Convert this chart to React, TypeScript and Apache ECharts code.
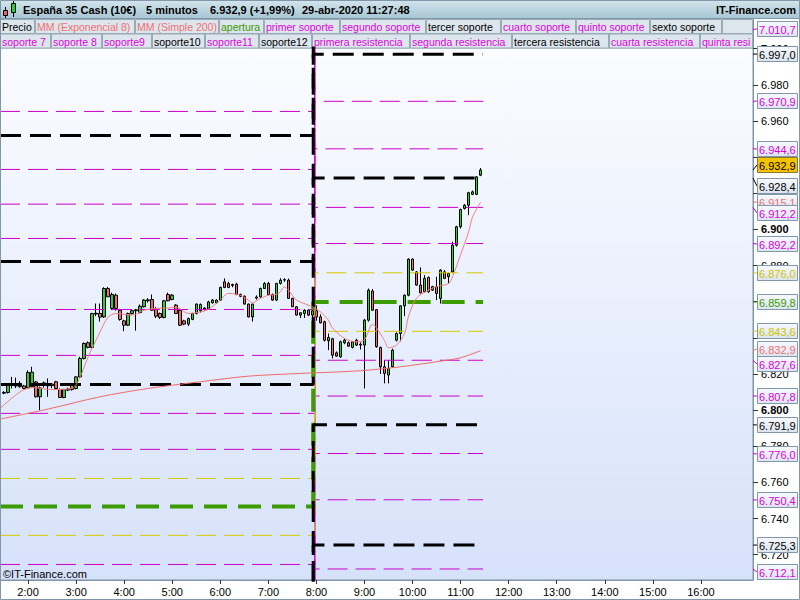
import React, { useEffect, useRef } from 'react';
import * as echarts from 'echarts';

// ---------------- data ----------------
const titleText = 'España 35 Cash (10€)';
const periodText = '5 minutos';
const quoteText = '6.932,9 (+1,99%)';
const stampText = '29-abr-2020 11:27:48';
const brandText = 'IT-Finance.com';
const copyrightText = '©IT-Finance.com';

// legend rows: [label, colour key]
const legendRowA: [string, string][] = [
  ['Precio', 'k'], ['MM (Exponencial 8)', 's'], ['MM (Simple 200)', 's'], ['apertura', 'g'],
  ['primer soporte', 'm'], ['segundo soporte', 'm'], ['tercer soporte', 'k'], ['cuarto soporte', 'm'],
  ['quinto soporte', 'm'], ['sexto soporte', 'k'], ['', 'k'],
];
const legendRowB: [string, string][] = [
  ['soporte 7', 'm'], ['soporte 8', 'm'], ['soporte9', 'm'], ['soporte10', 'k'], ['soporte11', 'm'],
  ['soporte12', 'k'], ['primera resistencia', 'm'], ['segunda resistencia', 'm'],
  ['tercera resistencia', 'k'], ['cuarta resistencia', 'm'], ['quinta resistencia', 'm'],
];

const firstBar = '1:30';
const barStep = 5; // minutes
// [open, high, low, close]
const candles: [number, number, number, number][] = [
  [6809.4, 6810.5, 6808.8, 6809.8], [6809.8, 6814.6, 6809.2, 6813.8], [6813.8, 6818.4, 6812.0, 6814.2],
  [6814.2, 6818.0, 6812.2, 6813.4], [6813.0, 6816.0, 6812.4, 6814.8], [6813.4, 6814.0, 6811.6, 6812.0],
  [6812.3, 6822.0, 6811.8, 6820.8], [6813.0, 6824.0, 6812.6, 6821.0], [6815.6, 6816.2, 6807.0, 6807.4],
  [6807.4, 6813.0, 6800.0, 6812.3], [6814.0, 6815.8, 6812.5, 6815.1], [6814.5, 6817.5, 6807.4, 6813.5],
  [6813.6, 6815.0, 6812.2, 6814.4], [6815.7, 6816.2, 6811.5, 6812.0], [6811.4, 6812.0, 6806.8, 6807.0],
  [6807.0, 6811.8, 6806.6, 6811.4], [6811.1, 6812.4, 6810.5, 6811.6], [6814.4, 6815.0, 6810.8, 6811.4],
  [6812.0, 6818.8, 6811.5, 6818.4], [6818.4, 6829.5, 6817.8, 6828.6], [6828.6, 6837.5, 6828.0, 6836.9],
  [6837.3, 6838.0, 6834.2, 6834.7], [6834.7, 6853.8, 6834.2, 6853.5], [6853.2, 6859.0, 6852.0, 6853.6],
  [6853.5, 6859.0, 6849.0, 6851.5], [6851.6, 6868.0, 6851.0, 6867.3], [6867.3, 6868.2, 6862.6, 6862.7],
  [6856.3, 6865.0, 6855.5, 6864.0], [6863.6, 6864.5, 6855.0, 6856.3], [6855.3, 6856.0, 6849.5, 6850.2],
  [6849.4, 6850.0, 6843.7, 6847.0], [6847.0, 6854.0, 6846.5, 6853.5], [6853.5, 6855.5, 6852.8, 6855.0],
  [6855.0, 6856.0, 6844.0, 6855.5], [6854.0, 6858.5, 6853.5, 6857.5], [6857.2, 6861.5, 6856.8, 6860.9],
  [6861.0, 6862.0, 6859.5, 6860.5], [6861.2, 6864.0, 6855.0, 6855.3], [6855.8, 6857.0, 6851.0, 6852.0],
  [6853.5, 6854.0, 6850.5, 6851.3], [6851.3, 6861.0, 6850.8, 6860.5], [6864.0, 6865.0, 6860.2, 6860.5],
  [6861.2, 6864.2, 6860.8, 6863.6], [6858.1, 6858.7, 6853.2, 6853.5], [6855.3, 6856.0, 6846.5, 6847.0],
  [6849.4, 6850.0, 6847.0, 6847.6], [6847.6, 6851.2, 6846.5, 6850.7], [6850.2, 6853.8, 6849.8, 6853.5],
  [6853.5, 6859.0, 6853.0, 6858.7], [6855.0, 6859.0, 6854.0, 6858.5], [6856.5, 6857.0, 6855.0, 6856.0],
  [6856.0, 6860.5, 6855.5, 6859.9], [6859.4, 6861.5, 6859.0, 6860.9], [6859.4, 6861.3, 6859.0, 6860.9],
  [6860.9, 6868.3, 6860.5, 6867.9], [6871.0, 6872.9, 6867.5, 6867.9], [6870.1, 6871.0, 6867.5, 6867.9],
  [6869.0, 6870.0, 6868.0, 6869.5], [6869.7, 6870.5, 6863.6, 6864.0], [6863.0, 6864.5, 6862.5, 6864.0],
  [6863.0, 6863.5, 6858.5, 6858.7], [6858.7, 6859.0, 6851.3, 6851.6], [6851.6, 6858.8, 6849.0, 6858.7],
  [6862.0, 6863.5, 6861.2, 6862.6], [6862.7, 6867.8, 6862.2, 6867.3], [6867.3, 6870.8, 6867.0, 6870.1],
  [6870.1, 6871.0, 6863.5, 6864.0], [6864.0, 6864.5, 6860.5, 6860.9], [6860.9, 6870.5, 6860.5, 6870.1],
  [6870.1, 6873.0, 6869.5, 6871.9], [6872.0, 6873.0, 6871.0, 6872.2], [6871.9, 6872.8, 6861.5, 6861.8],
  [6861.8, 6862.2, 6857.0, 6857.2], [6857.2, 6857.5, 6852.3, 6852.6], [6852.6, 6854.0, 6851.0, 6853.9],
  [6853.5, 6855.8, 6851.0, 6855.3], [6855.3, 6856.0, 6852.0, 6852.6], [6852.6, 6857.0, 6850.0, 6855.0],
  // 8:00 session
  [6855.0, 6858.0, 6849.5, 6851.6], [6851.6, 6853.0, 6848.0, 6848.3], [6848.9, 6849.5, 6838.0, 6838.7],
  [6838.4, 6842.4, 6833.2, 6840.2], [6839.5, 6840.0, 6828.6, 6830.4], [6831.7, 6832.5, 6829.5, 6829.9],
  [6829.5, 6838.5, 6829.0, 6837.8], [6837.3, 6839.5, 6836.5, 6838.7], [6837.3, 6838.0, 6835.0, 6835.4],
  [6834.7, 6838.2, 6834.2, 6837.8], [6838.7, 6839.5, 6835.5, 6836.0], [6836.5, 6837.5, 6833.5, 6836.0],
  [6836.0, 6850.5, 6812.0, 6849.8], [6849.8, 6867.3, 6849.0, 6866.4], [6865.9, 6867.0, 6855.0, 6855.3],
  [6855.6, 6856.0, 6834.5, 6835.1], [6834.7, 6835.2, 6820.0, 6824.0], [6824.0, 6827.7, 6814.8, 6820.3],
  [6819.4, 6827.7, 6814.8, 6823.1], [6824.0, 6834.0, 6823.5, 6833.2], [6838.7, 6843.0, 6838.0, 6842.4],
  [6842.4, 6858.0, 6838.0, 6857.7], [6857.7, 6864.0, 6852.0, 6863.6], [6863.6, 6884.0, 6863.0, 6883.6],
  [6883.6, 6884.0, 6877.0, 6877.5], [6876.5, 6877.0, 6868.8, 6869.2], [6869.2, 6879.0, 6864.6, 6864.9],
  [6865.5, 6874.7, 6865.0, 6872.9], [6873.4, 6874.0, 6865.0, 6865.5], [6866.4, 6868.8, 6866.0, 6868.3],
  [6868.3, 6873.8, 6860.9, 6864.6], [6861.8, 6878.0, 6859.0, 6877.5], [6876.5, 6877.5, 6872.5, 6872.9],
  [6873.8, 6876.0, 6870.1, 6875.6], [6876.5, 6893.2, 6876.0, 6891.3], [6891.3, 6902.0, 6890.5, 6901.5],
  [6901.5, 6911.5, 6900.5, 6911.0], [6911.6, 6914.0, 6911.0, 6913.4], [6913.4, 6920.8, 6907.9, 6920.3],
  [6919.4, 6921.5, 6919.0, 6920.8], [6919.4, 6929.5, 6919.0, 6929.1], [6930.0, 6934.0, 6929.5, 6932.9],
];

const ema8: [string, number][] = [
  ['1:25', 6800.9], ['1:50', 6810.1], ['2:05', 6812.5], ['2:30', 6811.4], ['2:55', 6812.0],
  ['3:05', 6818.4], ['3:15', 6829.5], ['3:30', 6843.3], ['3:40', 6851.6], ['3:50', 6853.5],
  ['4:10', 6852.6], ['4:25', 6855.3], ['4:40', 6856.3], ['4:55', 6856.5], ['5:05', 6857.0],
  ['5:20', 6853.5], ['5:30', 6853.9], ['5:45', 6855.7], ['6:00', 6860.9], ['6:10', 6864.6],
  ['6:25', 6863.6], ['6:35', 6860.9], ['6:40', 6859.4], ['6:50', 6861.8], ['7:00', 6863.6],
  ['7:10', 6864.0], ['7:15', 6865.5], ['7:20', 6868.2], ['7:25', 6866.5], ['7:35', 6861.0],
  ['7:50', 6858.1], ['7:55', 6857.2], ['8:05', 6854.4], ['8:15', 6849.8], ['8:20', 6845.5],
  ['8:35', 6839.7], ['8:50', 6837.8], ['9:00', 6839.0], ['9:10', 6847.5], ['9:15', 6845.5],
  ['9:25', 6838.5], ['9:30', 6834.5], ['9:40', 6836.0], ['9:50', 6842.4], ['9:55', 6852.0],
  ['10:05', 6862.0], ['10:20', 6866.4], ['10:30', 6868.3], ['10:45', 6870.1], ['10:50', 6874.0],
  ['11:00', 6886.0], ['11:10', 6898.7], ['11:15', 6907.0], ['11:25', 6915.1],
];

const sma200: [string, number][] = [
  ['1:25', 6795.0], ['2:25', 6800.6], ['3:30', 6807.4], ['4:30', 6812.0], ['5:35', 6815.7],
  ['6:35', 6818.8], ['7:40', 6820.3], ['8:55', 6821.8], ['9:45', 6824.0], ['10:35', 6827.1],
  ['11:00', 6829.0], ['11:25', 6832.9],
];

// level pairs: [previous session value, current session value]
const openLevels: [number, number][] = [[6746.7, 6859.8]];
const yellowLevels: [number, number][] = [[6762.2, 6876.0], [6730.7, 6843.6]];
const magentaLevels: [number, number][] = [
  [6965.3, 7078.0], [6933.2, 7046.0], [6914.0, 7027.0], [6895.0, 7010.7], [6855.7, 6970.9],
  [6830.3, 6944.6], [6798.2, 6912.2], [6778.3, 6892.2], [6714.6, 6827.6], [6694.7, 6807.8],
  [6663.0, 6776.0], [6637.3, 6750.4], [6599.0, 6712.1],
];
const blackLevels: [number, number][] = [
  [6952.0, 7065.0], [6882.3, 6997.0], [6814.2, 6928.4], [6679.0, 6791.9], [6611.0, 6725.3],
];

// value tags on the price axis: [value, kind]
const axisTags: [number, string][] = [
  [7010.7, 'm'], [6997.0, 'k'], [6970.9, 'm'], [6944.6, 'm'], [6928.4, 'k'], [6932.9, 'p'],
  [6915.1, 's'], [6912.2, 'm'], [6892.2, 'm'], [6876.0, 'y'], [6859.8, 'g'], [6843.6, 'y'],
  [6832.9, 's'], [6827.6, 'm'], [6807.8, 'm'], [6791.9, 'k'], [6776.0, 'm'], [6750.4, 'm'],
  [6725.3, 'k'], [6712.1, 'm'],
];

const viewStart = '1:25';
const viewEnd = '17:05';
const blackSwitch = '7:56';
const colourSwitch = '7:58';
const levelEnd = '11:28';
const hourLabels = ['2:00', '3:00', '4:00', '5:00', '6:00', '7:00', '8:00', '9:00', '10:00', '11:00', '12:00', '13:00', '14:00', '15:00', '16:00'];
const priceTicks = [6720, 6740, 6760, 6780, 6800, 6820, 6840, 6860, 6880, 6900, 6920, 6940, 6960, 6980, 7000];
// tick labels not hidden behind the value tags
const priceLabels = [6720, 6740, 6760, 6780, 6800, 6820, 6880, 6900, 6960, 6980, 7000];
const priceMin = 6706;
const priceMax = 7000.4;

// ---------------- layout / style ----------------
const FONT = '"Liberation Sans", Arial, sans-serif';
const C: Record<string, string> = {
  k: '#000000', m: '#dd00dd', s: '#f07070', g: '#3a9a00', y: '#d0c400', p: '#000000',
};
const LINE_MAG = '#cc00cc';
const LINE_YEL = '#d4ca00';
const LINE_GRN = '#3c9c00';
const FRAME = '#8197a9';
const rowAEdges = [0, 35, 135, 219, 264, 340, 426, 501, 576, 650, 722, 753];
const rowBEdges = [0, 51, 102, 152, 205, 259, 312, 410, 512, 609, 700, 753];
const tagNudge: Record<number, number> = { 4: 8, 5: -5, 7: 6, 12: -2, 13: 4, 19: 3 };

const toMin = (s: string) => {
  const [h, m] = s.split(':').map(Number);
  return h * 60 + m;
};
const thousands = (i: string) => (i.length > 3 ? i.slice(0, -3) + '.' + i.slice(-3) : i);
const fmtTag = (v: number) => {
  const [i, d] = v.toFixed(1).split('.');
  return thousands(i) + ',' + d;
};

function legendCells(row: [string, string][], edges: number[], y: number): any[] {
  const out: any[] = [];
  row.forEach(([label, key], i) => {
    const x0 = edges[i];
    const x1 = edges[i + 1];
    out.push({
      type: 'rect',
      shape: { x: x0 + 0.5, y: y + 0.5, width: x1 - x0 - 1, height: 14 },
      style: { fill: '#dde6ed', stroke: '#9aabb8', lineWidth: 1 },
      silent: true,
    });
    if (label) {
      const last = i === row.length - 1;
      const style: any = { text: label, fill: C[key], font: `10.5px ${FONT}`, verticalAlign: 'middle' };
      if (last) {
        style.width = x1 - x0 - 2;
        style.overflow = 'truncate';
        style.ellipsis = '';
      }
      out.push({ type: 'text', x: x0 + 2, y: y + 8, style, silent: true });
    }
  });
  return out;
}

function buildOption(): any {
  const t0 = toMin(viewStart);
  const t1 = toMin(viewEnd);
  const swK = toMin(blackSwitch);
  const swC = toMin(colourSwitch);
  const te = toMin(levelEnd);
  const fb = toMin(firstBar);

  const levelSeries = (pairs: [number, number][], color: string, width: number, dash: number[], z: number, sw: number) =>
    pairs.map(([l, r]) => ({
      type: 'line',
      data: [[t0, l], [sw, l], [sw, r], [te, r]],
      symbol: 'none',
      silent: true,
      clip: true,
      z,
      lineStyle: { color, width, type: dash, cap: 'butt' },
    }));

  const tagGradient = new echarts.graphic.LinearGradient(0, 0, 0, 1, [
    { offset: 0, color: '#f7f9fd' },
    { offset: 1, color: '#dbe4ef' },
  ]);

  const titleFont = `bold 11px ${FONT}`;
  const graphics: any[] = [
    {
      type: 'rect', shape: { x: 0, y: 0, width: 800, height: 18 },
      style: {
        fill: new echarts.graphic.LinearGradient(0, 0, 0, 1, [
          { offset: 0, color: '#d3e5ec' }, { offset: 1, color: '#a9c7d5' },
        ]),
      },
      silent: true,
    },
    { type: 'line', shape: { x1: 0, y1: 18.5, x2: 800, y2: 18.5 }, style: { stroke: FRAME, lineWidth: 1 }, silent: true },
    // icon
    { type: 'line', shape: { x1: 5.5, y1: 7, x2: 5.5, y2: 18 }, style: { stroke: '#000', lineWidth: 1 }, silent: true },
    { type: 'rect', shape: { x: 3.5, y: 10.5, width: 4, height: 5 }, style: { fill: '#f06060', stroke: '#000', lineWidth: 1 }, silent: true },
    { type: 'line', shape: { x1: 13.5, y1: 1, x2: 13.5, y2: 17 }, style: { stroke: '#000', lineWidth: 1 }, silent: true },
    { type: 'rect', shape: { x: 11.5, y: 3.5, width: 4, height: 9 }, style: { fill: '#30c830', stroke: '#000', lineWidth: 1 }, silent: true },
    { type: 'text', x: 23, y: 10, style: { text: titleText, font: titleFont, fill: '#000', verticalAlign: 'middle' }, silent: true },
    { type: 'text', x: 146, y: 10, style: { text: periodText, font: titleFont, fill: '#000', verticalAlign: 'middle' }, silent: true },
    { type: 'text', x: 210, y: 10, style: { text: quoteText, font: titleFont, fill: '#000', verticalAlign: 'middle' }, silent: true },
    { type: 'text', x: 302, y: 10, style: { text: stampText, font: titleFont, fill: '#000', verticalAlign: 'middle' }, silent: true },
    { type: 'text', x: 796, y: 10, style: { text: brandText, font: titleFont, fill: '#000', verticalAlign: 'middle', align: 'right' }, silent: true },
    ...legendCells(legendRowA, rowAEdges, 19),
    ...legendCells(legendRowB, rowBEdges, 33.5),
    { type: 'line', shape: { x1: 753.5, y1: 19, x2: 753.5, y2: 48 }, style: { stroke: FRAME, lineWidth: 1 }, silent: true },
    { type: 'text', x: 3, y: 574, z: 50, style: { text: copyrightText, font: `11px ${FONT}`, fill: '#000', verticalAlign: 'middle' }, silent: true },
    { type: 'rect', shape: { x: 0.5, y: 0.5, width: 799, height: 599 }, style: { fill: 'none', stroke: FRAME, lineWidth: 1 }, silent: true, z: 60 },
  ];

  return {
    animation: false,
    backgroundColor: '#ffffff',
    textStyle: { fontFamily: FONT },
    graphic: { elements: graphics },
    grid: {
      left: 0, right: 47, top: 48, bottom: 20, show: true,
      backgroundColor: new echarts.graphic.LinearGradient(0, 0, 0, 1, [
        { offset: 0, color: '#fbfcff' }, { offset: 1, color: '#d6e2fa' },
      ]),
      borderColor: FRAME, borderWidth: 1,
    },
    xAxis: {
      type: 'value', min: t0, max: t1,
      axisLine: { show: true, lineStyle: { color: FRAME } },
      axisTick: { show: true, length: 4, lineStyle: { color: '#333' }, customValues: hourLabels.map(toMin) },
      axisLabel: {
        customValues: hourLabels.map(toMin), fontSize: 11, color: '#000', margin: 6, fontFamily: FONT,
        formatter: (v: number) => `${Math.floor(v / 60)}:${String(v % 60).padStart(2, '0')}`,
      },
      splitLine: { show: false },
    },
    yAxis: {
      type: 'value', position: 'right', min: priceMin, max: priceMax,
      axisLine: { show: true, lineStyle: { color: FRAME } },
      axisTick: { show: true, length: 5, lineStyle: { color: '#333' }, customValues: priceTicks },
      axisLabel: {
        customValues: priceLabels, fontSize: 11, color: '#000', margin: 8, fontFamily: FONT,
        formatter: (v: number) => {
          const s = thousands(String(Math.round(v)));
          return Math.round(v) % 100 === 0 ? `{b|${s}}` : s;
        },
        rich: { b: { fontWeight: 'bold', fontSize: 11, fontFamily: FONT, color: '#000' } },
      },
      splitLine: { show: false },
    },
    series: [
      {
        type: 'candlestick', name: 'Precio', silent: true, z: 2,
        data: candles.map((c, i) => [fb + i * barStep, c[0], c[3], c[2], c[1]]),
        encode: { x: 0, y: [1, 2, 3, 4] },
        barWidth: 3,
        itemStyle: { color: '#33cc33', color0: '#f06c6c', borderColor: '#000', borderColor0: '#000', borderWidth: 1 },
      },
      ...levelSeries(magentaLevels, LINE_MAG, 1, [20, 8], 3, swC),
      ...levelSeries(yellowLevels, LINE_YEL, 1, [20, 8], 3, swC),
      ...levelSeries(openLevels, LINE_GRN, 4, [23, 11], 4, swK),
      ...levelSeries(blackLevels, '#000000', 3, [21, 9], 5, swK),
      {
        type: 'line', name: 'MM (Simple 200)', silent: true, z: 6, symbol: 'none',
        data: sma200.map(([t, v]) => [toMin(t), v]),
        lineStyle: { color: '#ee6a6a', width: 1 }, smooth: 0.3,
      },
      {
        type: 'line', name: 'MM (Exponencial 8)', silent: true, z: 6, symbol: 'none',
        data: ema8.map(([t, v]) => [toMin(t), v]),
        lineStyle: { color: '#f08080', width: 1 }, smooth: 0.3,
      },
      {
        type: 'custom', silent: true, clip: false, z: 20,
        data: axisTags.map(([v]) => [t1, v]),
        encode: { x: 0, y: 1 },
        renderItem: (params: any, api: any) => {
          const i = params.dataIndex;
          const [v, kind] = axisTags[i];
          const p = api.coord([t1, v]);
          const gx = Math.round(p[0]);
          const gy = p[1];
          const y = Math.round(gy + (tagNudge[i] || 0));
          const isPrice = kind === 'p';
          const tick = kind === 'm' ? LINE_MAG : kind === 'y' ? LINE_YEL : kind === 'g' ? LINE_GRN : C[kind];
          return {
            type: 'group',
            children: [
              { type: 'line', shape: { x1: gx, y1: gy, x2: gx + 4, y2: y }, style: { stroke: tick, lineWidth: 1 } },
              {
                type: 'rect', shape: { x: gx + 4.5, y: y - 7.5, width: 40, height: 15 },
                style: { fill: isPrice ? '#f6c300' : tagGradient, stroke: isPrice ? '#8a7a30' : '#8297aa', lineWidth: 1 },
              },
              {
                type: 'text', x: gx + 6, y: y + 0.5,
                style: { text: fmtTag(v), fill: C[kind], font: `11px ${FONT}`, verticalAlign: 'middle' },
              },
            ],
          };
        },
      },
    ],
  };
}

export default function App() {
  const ref = useRef<HTMLDivElement>(null);
  useEffect(() => {
    document.body.style.margin = '0';
    const chart = echarts.init(ref.current as HTMLDivElement, null, { renderer: 'svg' });
    chart.setOption(buildOption());
    return () => chart.dispose();
  }, []);
  return (
    <div
      ref={ref}
      style={{ position: 'fixed', left: 0, top: 0, width: 800, height: 600, background: '#ffffff' }}
    />
  );
}
